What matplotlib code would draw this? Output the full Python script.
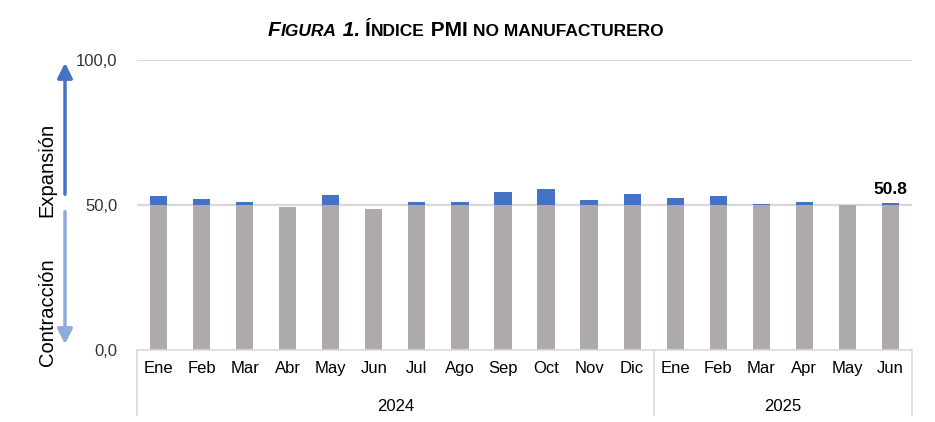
import matplotlib
matplotlib.use("Agg")
import matplotlib.pyplot as plt
import matplotlib.transforms as mtransforms
from matplotlib.patches import FancyArrowPatch
import numpy as np

plt.rcParams['font.family'] = ['Liberation Sans', 'DejaVu Sans']

# ----------------------------------------
# Data
# ----------------------------------------
months = ["Ene", "Feb", "Mar", "Abr", "May", "Jun", "Jul", "Ago", "Sep", "Oct", "Nov", "Dic",
          "Ene", "Feb", "Mar", "Apr", "May", "Jun"]
pmi = [53.2, 52.2, 51.1, 49.2, 53.6, 48.5, 51.1, 51.1, 54.6,
       55.6, 51.8, 53.9, 52.5, 53.2, 50.4, 51.1, 50.0, 50.8]
years = ["2024", "2025"]
year_counts = [12, 6]

GRAY = "#AEAAAA"
BLUE = "#4472C4"
LIGHT_BLUE = "#8FAADC"
GRID = "#D9D9D9"

fig = plt.figure(figsize=(9.35, 4.22), dpi=100)
ax = fig.add_axes([137 / 935, 72 / 422, 775 / 935, 290 / 422])

x = np.arange(len(pmi))
vals = np.array(pmi)
base = np.minimum(vals, 50)
above = np.maximum(vals - 50, 0)

# gridlines behind bars
for g in [50, 100]:
    ax.axhline(g, color=GRID, linewidth=1.6, zorder=0)

ax.bar(x, base, width=0.4, color=GRAY, zorder=2)
ax.bar(x, above, width=0.4, bottom=50, color=BLUE, zorder=2)

# last value label
ax.text(x[-1], vals[-1] + 2, f"{vals[-1]:.1f}", ha="center", va="bottom",
        fontsize=12.5, fontweight="bold")

ax.set_xlim(-0.5, len(pmi) - 0.5)
ax.set_ylim(0, 100)
ax.set_yticks([0, 50, 100])
ax.set_yticklabels(["0,0", "50,0", "100,0"], fontsize=12, color="#333333")
ax.tick_params(axis="y", length=0, pad=14)
ax.set_xticks(x)
ax.set_xticklabels(months, fontsize=12)
ax.tick_params(axis="x", length=0, pad=8)

for s in ["top", "right", "left"]:
    ax.spines[s].set_visible(False)
ax.spines["bottom"].set_color(GRID)
ax.spines["bottom"].set_linewidth(1.2)

# multi-level category axis
trans = mtransforms.blended_transform_factory(ax.transData, ax.transAxes)
edges = np.concatenate([[0], np.cumsum(year_counts)]) - 0.5
for e in edges:
    ax.plot([e, e], [0, -0.225], color=GRID, linewidth=1.2, transform=trans, clip_on=False)
for i, yr in enumerate(years):
    mid = (edges[i] + edges[i + 1]) / 2
    ax.text(mid, -0.195, yr, transform=trans, ha="center", va="center", fontsize=12)

# expansion / contraction arrows
fig.patches.append(FancyArrowPatch(
    (65 / 935, (422 - 197) / 422), (65 / 935, (422 - 60) / 422),
    transform=fig.transFigure, arrowstyle="-|>,head_length=9,head_width=4.5",
    color=BLUE, linewidth=2.5, mutation_scale=1))
fig.patches.append(FancyArrowPatch(
    (65 / 935, (422 - 209) / 422), (65 / 935, (422 - 347) / 422),
    transform=fig.transFigure, arrowstyle="-|>,head_length=9,head_width=4.5",
    color=LIGHT_BLUE, linewidth=2.5, mutation_scale=1))
fig.text(47 / 935, (422 - 170) / 422, "Expansión", rotation=90, ha="center", va="center", fontsize=14.5)
fig.text(47 / 935, (422 - 312) / 422, "Contracción", rotation=90, ha="center", va="center", fontsize=14.5)

# title with small caps
pieces = [("F", 15, "italic"), ("IGURA", 12.5, "italic"), (" 1. ", 15, "italic"),
          ("Í", 15, "normal"), ("NDICE", 12.5, "normal"), (" PMI ", 15, "normal"),
          ("NO MANUFACTURERO", 12.5, "normal")]
renderer = fig.canvas.get_renderer()
texts = []
for s, size, style in pieces:
    t = fig.text(0, 1 - 36 / 422, s, fontsize=size, fontstyle=style, fontweight="bold",
                 ha="left", va="baseline")
    texts.append(t)
widths = [t.get_window_extent(renderer).width for t in texts]
xpos = 466 - sum(widths) / 2
for t, w in zip(texts, widths):
    t.set_x(xpos / 935)
    xpos += w

fig.savefig("out.png", dpi=100)
